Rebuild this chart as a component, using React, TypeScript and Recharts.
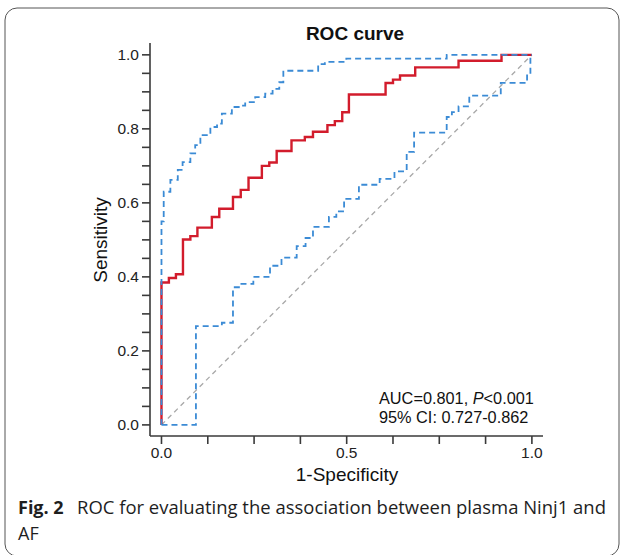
import { LineChart, Line, XAxis, YAxis } from "recharts";

// ROC curve (step vertices: 1-specificity, sensitivity)
const rocFpr = [0, 0, 0.02, 0.039, 0.058, 0.078, 0.097, 0.136, 0.156, 0.193, 0.214, 0.235, 0.271, 0.291, 0.311, 0.351, 0.387, 0.409, 0.448, 0.468, 0.488, 0.506, 0.605, 0.625, 0.644, 0.685, 0.802, 0.918, 1.0];
const rocTpr = [0, 0.385, 0.397, 0.407, 0.501, 0.51, 0.533, 0.562, 0.584, 0.616, 0.635, 0.668, 0.7, 0.709, 0.74, 0.769, 0.778, 0.792, 0.81, 0.821, 0.845, 0.893, 0.924, 0.933, 0.944, 0.966, 0.984, 1.0, 1.0];

// upper 95% CI band
const upperFpr = [0, 0, 0.006, 0.024, 0.044, 0.057, 0.078, 0.091, 0.105, 0.132, 0.15, 0.163, 0.19, 0.212, 0.226, 0.253, 0.28, 0.3, 0.318, 0.329, 0.423, 0.441, 0.499, 0.77, 1.0];
const upperTpr = [0, 0.55, 0.63, 0.662, 0.689, 0.71, 0.734, 0.756, 0.783, 0.805, 0.814, 0.841, 0.859, 0.863, 0.872, 0.886, 0.895, 0.908, 0.926, 0.957, 0.975, 0.981, 0.99, 1.0, 1.0];

// lower 95% CI band
const lowerFpr = [0, 0.093, 0.163, 0.193, 0.212, 0.248, 0.293, 0.324, 0.365, 0.389, 0.409, 0.452, 0.472, 0.493, 0.533, 0.589, 0.629, 0.662, 0.682, 0.77, 0.784, 0.802, 0.831, 0.916, 0.987, 0.996, 1.0];
const lowerTpr = [0, 0.267, 0.276, 0.372, 0.381, 0.4, 0.43, 0.452, 0.483, 0.505, 0.535, 0.562, 0.577, 0.611, 0.649, 0.665, 0.685, 0.738, 0.79, 0.832, 0.845, 0.861, 0.89, 0.924, 0.948, 1.0, 1.0];

// reference diagonal
const diagX = [0, 1];
const diagY = [0, 1];

const xTicks = [0, 0.125, 0.25, 0.375, 0.5, 0.625, 0.75, 0.875, 1];
const xTickLabels = ["0.0", "", "", "", "0.5", "", "", "", "1.0"];
const yTicks = [0, 0.05, 0.1, 0.15, 0.2, 0.25, 0.3, 0.35, 0.4, 0.45, 0.5, 0.55, 0.6, 0.65, 0.7, 0.75, 0.8, 0.85, 0.9, 0.95, 1.0];
const yTickLabels = ["0.0", "", "", "", "0.2", "", "", "", "0.4", "", "", "", "0.6", "", "", "", "0.8", "", "", "", "1.0"];

const toPoints = (xs: number[], ys: number[]) => xs.map((x, i) => ({ x, y: ys[i] }));

const FONT = "'Liberation Sans', Arial, sans-serif";
const CAPTION_FONT = "'Open Sans', 'Noto Sans', sans-serif";
const AXIS = "#3a3a3a";
const tickStyle = { fill: "#222", fontSize: 15.5, fontFamily: FONT };

export default function App() {
  return (
    <div style={{ position: "absolute", left: 0, top: 0, width: 622, height: 555, background: "#fff" }}>
      <LineChart
        width={622}
        height={555}
        margin={{ top: 43, right: 79, bottom: 89, left: 100 }}
        style={{ fontFamily: FONT }}
      >
        <rect x={5} y={8} width={614} height={548} rx={12} fill="none" stroke="#555" strokeWidth={1} />
        <XAxis
          type="number"
          dataKey="x"
          domain={[-0.031, 1.03]}
          allowDataOverflow
          ticks={xTicks}
          tickFormatter={(v: number, i: number) => xTickLabels[i]}
          tick={tickStyle}
          tickSize={8}
          tickMargin={3}
          height={30}
          stroke={AXIS}
          strokeWidth={1.6}
          interval={0}
        />
        <XAxis xAxisId="top" orientation="top" type="number" domain={[-0.031, 1.03]} tick={false} tickLine={false} height={0} stroke={AXIS} strokeWidth={1.6} />
        <YAxis
          type="number"
          dataKey="y"
          domain={[-0.03, 1.032]}
          allowDataOverflow
          ticks={yTicks}
          tickFormatter={(v: number, i: number) => yTickLabels[i]}
          tick={tickStyle}
          tickSize={8}
          tickMargin={3}
          width={50}
          stroke={AXIS}
          strokeWidth={1.6}
          interval={0}
        />
        <YAxis yAxisId="right" orientation="right" type="number" domain={[-0.03, 1.032]} tick={false} tickLine={false} width={0} stroke={AXIS} strokeWidth={1.6} />
        <Line
          data={toPoints(diagX, diagY)}
          dataKey="y"
          type="linear"
          stroke="#a8a8a8"
          strokeWidth={1.3}
          strokeDasharray="5 4"
          dot={false}
          isAnimationActive={false}
        />
        <Line
          data={toPoints(rocFpr, rocTpr)}
          dataKey="y"
          type="stepAfter"
          stroke="#d21c2c"
          strokeWidth={2.4}
          dot={false}
          isAnimationActive={false}
        />
        <Line
          data={toPoints(upperFpr, upperTpr)}
          dataKey="y"
          type="stepAfter"
          stroke="#3b8bd5"
          strokeWidth={1.8}
          strokeDasharray="6 4"
          dot={false}
          isAnimationActive={false}
        />
        <Line
          data={toPoints(lowerFpr, lowerTpr)}
          dataKey="y"
          type="stepAfter"
          stroke="#3b8bd5"
          strokeWidth={1.8}
          strokeDasharray="6 4"
          dot={false}
          isAnimationActive={false}
        />
        <text x={355} y={40} textAnchor="middle" fontWeight="bold" fontSize={19} fill="#111" fontFamily={FONT}>
          ROC curve
        </text>
        <text
          x={100}
          y={240}
          transform="rotate(-90, 100, 240)"
          textAnchor="middle"
          dominantBaseline="central"
          fontSize={19}
          fill="#111"
          fontFamily={FONT}
        >
          Sensitivity
        </text>
        <text x={347} y={481} textAnchor="middle" fontSize={19} fill="#111" fontFamily={FONT}>
          1-Specificity
        </text>
        <text x={379} y={403.5} fontSize={16.3} fill="#111" fontFamily={FONT}>
          AUC=0.801, <tspan fontStyle="italic">P</tspan>&lt;0.001
        </text>
        <text x={379} y={422.5} fontSize={16.3} fill="#111" fontFamily={FONT}>
          95% CI: 0.727-0.862
        </text>
        <text x={18} y={514} fontSize={18} fontWeight="bold" fill="#1e1e1e" fontFamily={CAPTION_FONT}>
          Fig. 2
        </text>
        <text
          x={77}
          y={514}
          fontSize={18}
          fill="#1e1e1e"
          textLength={529}
          lengthAdjust="spacingAndGlyphs"
          fontFamily={CAPTION_FONT}
        >
          ROC for evaluating the association between plasma Ninj1 and
        </text>
        <text x={18} y={540} fontSize={18} fill="#1e1e1e" fontFamily={CAPTION_FONT}>
          AF
        </text>
      </LineChart>
    </div>
  );
}
